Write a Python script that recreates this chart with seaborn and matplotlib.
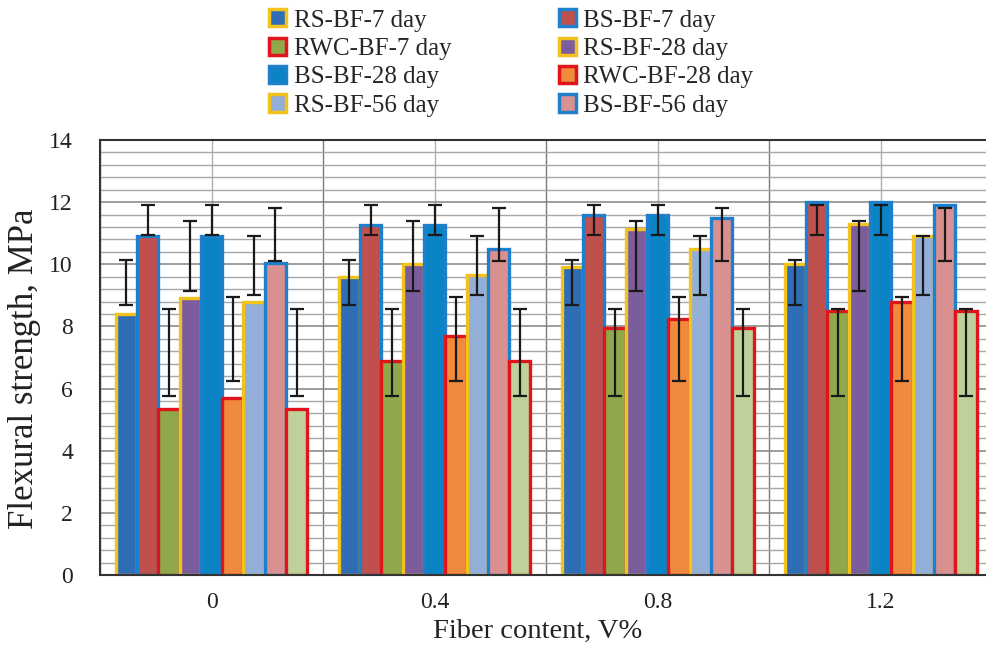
import numpy as np
import pandas as pd
import matplotlib
matplotlib.use("Agg")
import matplotlib.pyplot as plt
from matplotlib.patches import Patch
from matplotlib.ticker import MultipleLocator
import seaborn as sns

# ---------------- data ----------------
groups = ["0", "0.4", "0.8", "1.2"]
series = ["RS-BF-7 day", "BS-BF-7 day", "RWC-BF-7 day",
          "RS-BF-28 day", "BS-BF-28 day", "RWC-BF-28 day",
          "RS-BF-56 day", "BS-BF-56 day", "RWC-BF-56 day"]

rs_bf_7 = [8.4, 9.6, 9.9, 10.0]
bs_bf_7 = [10.9, 11.25, 11.6, 12.0]
rwc_bf_7 = [5.35, 6.9, 7.95, 8.5]
rs_bf_28 = [8.9, 10.0, 11.15, 11.3]
bs_bf_28 = [10.9, 11.25, 11.6, 12.0]
rwc_bf_28 = [5.7, 7.7, 8.25, 8.8]
rs_bf_56 = [8.8, 9.65, 10.5, 10.9]
bs_bf_56 = [10.05, 10.5, 11.5, 11.9]
rwc_bf_56 = [5.35, 6.9, 7.95, 8.5]

# error bar extents (identical in every group in the original chart)
err_low = [8.7, 10.95, 5.75, 9.15, 10.95, 6.25, 9.0, 10.1, 5.75]
err_high = [10.15, 11.9, 8.55, 11.4, 11.9, 8.95, 10.9, 11.8, 8.55]

fill_colors = ["#2F6EB5", "#C0504D", "#8FA84A", "#7B5D9E", "#0B84C6",
               "#F08A3C", "#93AFD8", "#D99190", "#BFD19A"]
edge_colors = ["#F3C21C", "#1E7FCC", "#E0151B", "#F3C21C", "#1E7FCC",
               "#E0151B", "#F3C21C", "#1E7FCC", "#E0151B"]

all_values = [rs_bf_7, bs_bf_7, rwc_bf_7, rs_bf_28, bs_bf_28, rwc_bf_28,
              rs_bf_56, bs_bf_56, rwc_bf_56]
rows = []
for s, vals in zip(series, all_values):
    for g, v in zip(groups, vals):
        rows.append({"Fiber": g, "Strength": v, "Series": s})
df = pd.DataFrame(rows)

# ---------------- plot ----------------
sns.set_theme(style="white")
plt.rcParams["font.family"] = ["Liberation Serif", "DejaVu Serif"]

fig = plt.figure(figsize=(9.87, 6.59), dpi=100)
ax = fig.add_axes([0.1013, 0.1275, 0.904, 0.6601])

sns.barplot(data=df, x="Fiber", y="Strength", hue="Series", order=groups,
            hue_order=series, palette=fill_colors, width=0.86, ax=ax,
            legend=False, saturation=1, errorbar=None)

bar_containers = list(ax.containers)
for i, cont in enumerate(bar_containers):
    for p in cont.patches:
        p.set_edgecolor(edge_colors[i])
        p.set_linewidth(2.4)
        p.set_zorder(2 + i * 0.01)
    xs = [p.get_x() + p.get_width() / 2 for p in cont.patches]
    n = len(xs)
    lo = np.full(n, err_low[i])
    hi = np.full(n, err_high[i])
    ax.errorbar(xs, (lo + hi) / 2, yerr=(hi - lo) / 2, fmt="none",
                ecolor="#1a1a1a", elinewidth=1.6, capsize=5, capthick=1.6,
                zorder=5)

ax.set_ylim(0, 14)
ax.set_xlim(-0.5, 3.5)
ax.yaxis.set_major_locator(MultipleLocator(2))
ax.yaxis.set_minor_locator(MultipleLocator(0.4))
ax.set_xticks([-0.5, 0.5, 1.5, 2.5, 3.5], minor=True)

ax.set_axisbelow(True)
ax.grid(which="major", axis="y", color="#8c8c8c", lw=1.2)
ax.grid(which="minor", axis="y", color="#a8a8a8", lw=1.0)
ax.grid(which="major", axis="x", color="#b0b0b0", lw=1.0)
ax.grid(which="minor", axis="x", color="#7a7a7a", lw=1.0)

ax.tick_params(axis="x", which="major", length=0, pad=12, labelsize=17,
               colors="#222222")
ax.tick_params(axis="x", which="minor", length=7, width=1.3,
               direction="out", color="#222222")
ax.tick_params(axis="y", which="major", length=7, width=1.3,
               direction="inout", pad=16, labelsize=17, colors="#222222")
ax.tick_params(axis="y", which="minor", length=0)

for side in ["left", "bottom", "top", "right"]:
    ax.spines[side].set_color("#333333")
    ax.spines[side].set_linewidth(1.5)

ax.set_xlabel("Fiber content, V%", fontsize=20.5, color="#222222")
ax.set_ylabel("Flexural strength, MPa", fontsize=25, color="#222222")
ax.xaxis.set_label_coords(0.49, -0.1)
ax.yaxis.set_label_coords(-0.066, 0.474)

# legend (RWC-BF-56 day is not shown in the original legend)
order = [0, 2, 4, 6, 1, 3, 5, 7]
handles = [Patch(facecolor=fill_colors[k], edgecolor=edge_colors[k],
                 linewidth=2.5, label=series[k]) for k in order]
fig.legend(handles=handles, ncol=2, loc="upper left",
           bbox_to_anchor=(0.25, 1.02), frameon=False, fontsize=18,
           handlelength=0.68, handleheight=0.68, handletextpad=0.3,
           labelspacing=0.24, columnspacing=4.3)

fig.savefig("out.png", dpi=100)
